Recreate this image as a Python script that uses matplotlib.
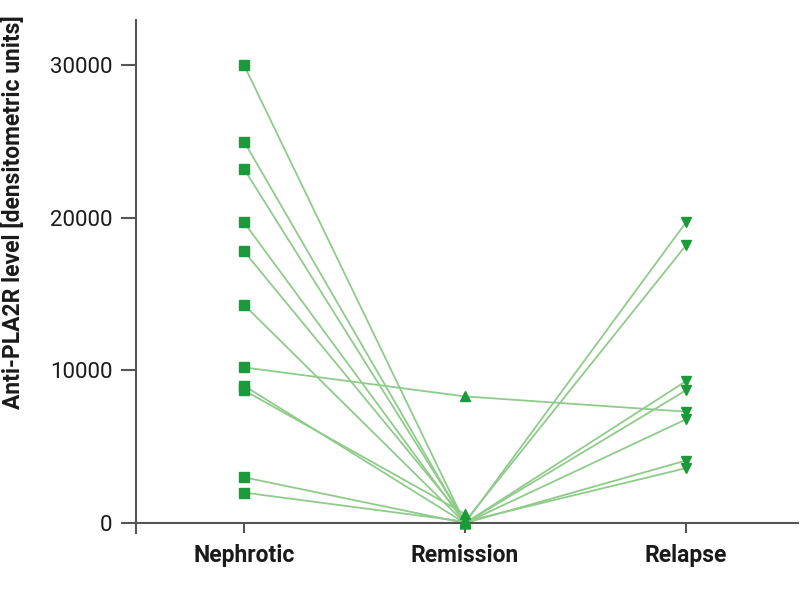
import numpy as np
import matplotlib
matplotlib.use("Agg")
import matplotlib.pyplot as plt

# categories on the x axis
stages = ["Nephrotic", "Remission", "Relapse"]

# anti-PLA2R level per patient at each stage (nan = no value)
nephrotic = [30000, 25000, 23200, 19700, 17800, 14300, 10200, 9000, 8700, 3000, 2000]
remission = [0, 0, 100, 0, 200, 0, 8300, 0, 600, 0, 100]
relapse = [19700, np.nan, 18200, 9300, np.nan, 8700, 7300, 6800, np.nan, 4100, 3600]

line_col = "#8fcb8a"
mark_col = "#1b9a3a"
font = "Roboto"

fig = plt.figure(figsize=(8, 5.93), dpi=100)
ax = fig.add_axes([0.17, 0.101, 0.8275, 0.865])

ax.spines["top"].set_visible(False)
ax.spines["right"].set_visible(False)
ax.spines["bottom"].set_position(("data", 0))
for s in ["left", "bottom"]:
    ax.spines[s].set_color("#555555")
    ax.spines[s].set_linewidth(1.5)

x = np.arange(len(stages))
for n, r, l in zip(nephrotic, remission, relapse):
    ax.plot(x, [n, r, l], color=line_col, lw=1.3, zorder=2)

ax.plot(np.zeros(len(nephrotic)), nephrotic, "s", color=mark_col, ms=6.5, zorder=3)
ax.plot(np.ones(len(remission)), remission, "^", color=mark_col, ms=6.5, zorder=3)
ax.plot(np.full(len(relapse), 2), relapse, "v", color=mark_col, ms=6.5, zorder=3)

ax.set_xlim(-0.489, 2.507)
ax.set_ylim(-655, 32950)
ax.set_yticks([0, 10000, 20000, 30000])
ax.set_xticks(x)
ax.tick_params(axis="y", length=11, width=1.5, color="#555555", pad=6)
ax.tick_params(axis="x", length=7, width=1.5, color="#555555", pad=8)
ax.set_xticklabels(stages, fontfamily=font, fontweight="bold", fontsize=16.5, color="#1a1a1a")
for lab in ax.get_yticklabels():
    lab.set_fontfamily(font)
    lab.set_fontsize(16)
    lab.set_color("#1a1a1a")

ax.set_ylabel("Anti-PLA2R level [densitometric units]", fontfamily=font,
              fontweight="bold", fontsize=16.5, color="#1a1a1a")
ax.yaxis.set_label_coords(-0.167, 0.626)

fig.savefig("out.png", dpi=100)
